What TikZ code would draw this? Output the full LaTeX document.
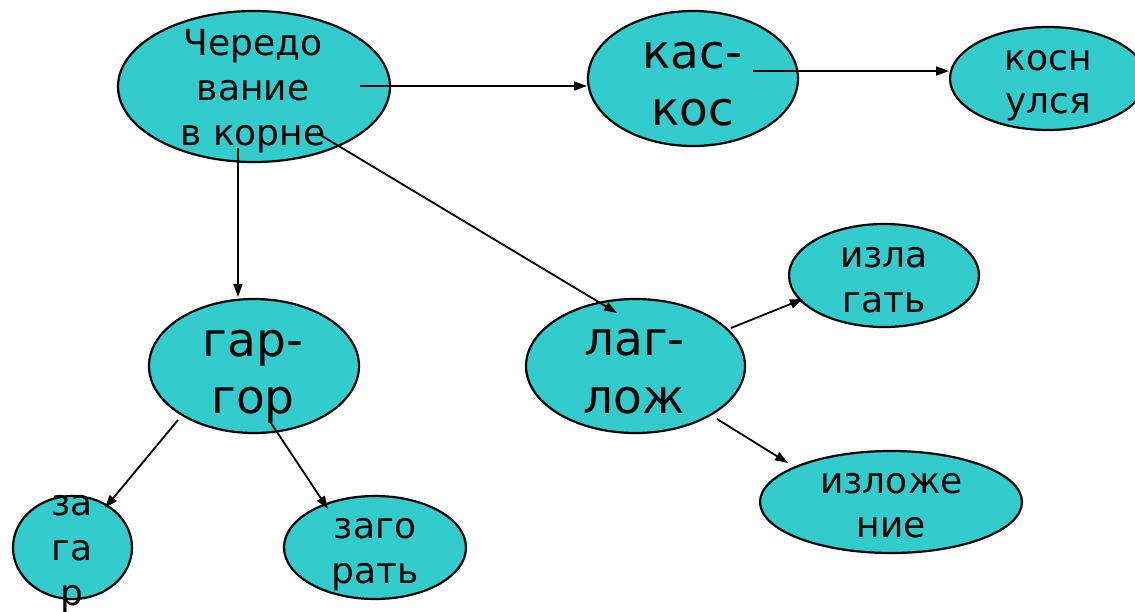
\documentclass[tikz,border=0pt]{standalone}
\usepackage{fontspec}
\setmainfont{DejaVu Sans}
\usetikzlibrary{shapes.geometric,arrows.meta}
\definecolor{nodefill}{HTML}{33CCCC}
\begin{document}
\begin{tikzpicture}[x=1pt,y=-1pt,
  bubble/.style={ellipse,draw=black,line width=2.2pt,fill=nodefill,inner sep=0pt},
  small/.style={font=\fontsize{36}{43}\selectfont,inner sep=0pt,anchor=base},
  big/.style={font=\fontsize{47}{56}\selectfont,inner sep=0pt,anchor=base},
  conn/.style={line width=1.8pt,-{Triangle[length=13pt,width=9pt]}}]
\useasboundingbox (0,0) rectangle (1135,611);
\fill[white] (0,0) rectangle (1135,611);

% ellipses
\node[bubble,minimum width=272pt,minimum height=151pt] (cher) at (254,86.5) {};
\node[bubble,minimum width=210pt,minimum height=135pt] (kas) at (693,78.5) {};
\node[bubble,minimum width=196pt,minimum height=103pt] (kosn) at (1048,78.5) {};
\node[bubble,minimum width=190pt,minimum height=103pt] (izla) at (884,275.5) {};
\node[bubble,minimum width=219pt,minimum height=134pt] (lag) at (635.5,366) {};
\node[bubble,minimum width=210pt,minimum height=134pt] (gar) at (254,366) {};
\node[bubble,minimum width=262pt,minimum height=102pt] (izlozh) at (891,502) {};
\node[bubble,minimum width=119pt,minimum height=103pt] (zagar) at (72.5,547.5) {};
\node[bubble,minimum width=182pt,minimum height=103pt] (zagor) at (375,547.5) {};

% texts
\node[small] (cherA) at (253,55) {Чередо};
\node[small] (cherB) at (253,100) {вание};
\node[small] (cherC) at (253,145) {в корне};
\node[big] (kasA) at (692,68) {кас-};
\node[big] (kasB) at (693,125) {кос};
\node[small] (kosnA) at (1048,70) {косн};
\node[small] (kosnB) at (1048,113) {улся};
\node[small] (izlaA) at (884,267) {изла};
\node[small] (izlaB) at (884,312) {гать};
\node[big] (lagA) at (634.5,355) {лаг-};
\node[big] (lagB) at (634.5,413) {лож};
\node[big] (garA) at (253,356) {гар-};
\node[big] (garB) at (253,413) {гор};
\node[small] (izlozhA) at (891.5,493) {изложе};
\node[small] (izlozhB) at (891.5,537) {ние};
\node[small] (zagarA) at (72,515) {за};
\node[small] (zagarB) at (72,560) {га};
\node[small] (zagarC) at (72,605) {р};
\node[small] (zagorA) at (375,538) {заго};
\node[small] (zagorB) at (375,583) {рать};

% connector end points
\coordinate (a1s) at (360,86);  \coordinate (a1e) at (587,86);
\coordinate (a2s) at (753,71);  \coordinate (a2e) at (949,71);
\coordinate (a3s) at (238,148); \coordinate (a3e) at (238,297);
\coordinate (a4s) at (317,133); \coordinate (a4e) at (617,313);
\coordinate (a5s) at (178,420); \coordinate (a5e) at (105,508);
\coordinate (a6s) at (269,420); \coordinate (a6e) at (328,509);
\coordinate (a7s) at (731,328); \coordinate (a7e) at (803,299);
\coordinate (a8s) at (717,419); \coordinate (a8e) at (788,463);

\draw[conn] (a1s) -- (a1e);
\draw[conn] (a2s) -- (a2e);
\draw[conn] (a3s) -- (a3e);
\draw[conn] (a4s) -- (a4e);
\draw[conn] (a5s) -- (a5e);
\draw[conn] (a6s) -- (a6e);
\draw[conn] (a7s) -- (a7e);
\draw[conn] (a8s) -- (a8e);
\end{tikzpicture}
\end{document}
